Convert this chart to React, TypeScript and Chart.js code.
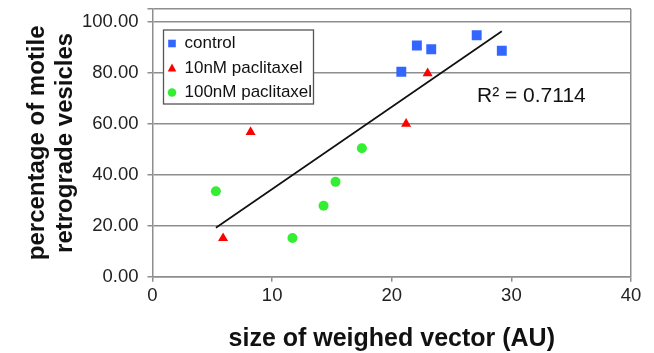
import React, { useEffect, useRef } from 'react';
import { Chart, registerables } from 'chart.js';

Chart.register(...registerables);

// ---- data ----
const seriesLabels = ['control', '10nM paclitaxel', '100nM paclitaxel'];
const controlX = [20.8, 22.1, 23.3, 27.1, 29.2];
const controlY = [80.4, 90.7, 89.2, 94.7, 88.6];
const nm10X = [23.0, 21.2, 8.2, 5.9];
const nm10Y = [79.8, 60.0, 56.7, 15.1];
const nm100X = [5.3, 11.7, 14.3, 15.3, 17.5];
const nm100Y = [33.5, 15.2, 27.8, 37.2, 50.4];
const xTicks = [0, 10, 20, 30, 40];
const yTicks = [0, 20, 40, 60, 80, 100];
const xMin = 0;
const xMax = 40;
const yMin = 0;
const yMax = 105;
const r2Label = 'R² = 0.7114';
const xTitle = 'size of weighed vector (AU)';
const yTitle = ['percentage of motile', 'retrograde vesicles'];

const FAMILY = '"Liberation Sans", Arial, sans-serif';
const GRID = '#8e8e8e';
const BLUE = '#3366ff';
const RED = '#ff0000';
const GREEN = '#33ee33';

type P = { x: number; y: number };
const pairs = (xs: number[], ys: number[]): P[] => xs.map((x, i) => ({ x, y: ys[i] }));

function trendLine(points: P[]): P[] {
  const n = points.length;
  const mx = points.reduce((s, p) => s + p.x, 0) / n;
  const my = points.reduce((s, p) => s + p.y, 0) / n;
  let sxy = 0;
  let sxx = 0;
  points.forEach((p) => {
    sxy += (p.x - mx) * (p.y - my);
    sxx += (p.x - mx) * (p.x - mx);
  });
  const slope = sxy / sxx;
  const icpt = my - slope * mx;
  const lo = Math.min(...points.map((p) => p.x));
  const hi = Math.max(...points.map((p) => p.x));
  return [
    { x: lo, y: icpt + slope * lo },
    { x: hi, y: icpt + slope * hi },
  ];
}

function drawMarker(ctx: CanvasRenderingContext2D, style: string, cx: number, cy: number, color: string) {
  ctx.fillStyle = color;
  ctx.beginPath();
  if (style === 'rect') {
    ctx.rect(cx - 3.8, cy - 3.8, 7.6, 7.6);
  } else if (style === 'triangle') {
    ctx.moveTo(cx, cy - 4.6);
    ctx.lineTo(cx + 4.3, cy + 3.6);
    ctx.lineTo(cx - 4.3, cy + 3.6);
    ctx.closePath();
  } else {
    ctx.arc(cx, cy, 4.3, 0, Math.PI * 2);
  }
  ctx.fill();
}

const overlayPlugin = {
  id: 'overlay',
  afterDatasetsDraw(chart: any) {
    const { ctx, chartArea } = chart;
    ctx.save();
    // legend box
    const left = chartArea.left + 11;
    const top = chartArea.top + 21;
    const w = 150;
    const h = 74;
    ctx.fillStyle = '#ffffff';
    ctx.fillRect(left, top, w, h);
    ctx.strokeStyle = '#555555';
    ctx.lineWidth = 1.3;
    ctx.strokeRect(left, top, w, h);
    const items = chart.data.datasets.filter((d: any) => !d.isTrend);
    items.forEach((d: any, i: number) => {
      const cy = top + 13.5 + i * 24.5;
      drawMarker(ctx, d.pointStyle, left + 8.5, cy, d.backgroundColor);
      ctx.fillStyle = '#111111';
      ctx.font = `17px ${FAMILY}`;
      ctx.textAlign = 'left';
      ctx.textBaseline = 'middle';
      ctx.fillText(d.label, left + 21, cy);
    });
    // R² label
    ctx.fillStyle = '#111111';
    ctx.font = `21px ${FAMILY}`;
    ctx.textAlign = 'left';
    ctx.textBaseline = 'middle';
    ctx.fillText(r2Label, chartArea.left + 324.5, chartArea.top + 87);
    ctx.restore();
  },
};

export default function App() {
  const ref = useRef<HTMLCanvasElement | null>(null);

  useEffect(() => {
    if (!ref.current) return;
    const control = pairs(controlX, controlY);
    const a = pairs(nm10X, nm10Y);
    const b = pairs(nm100X, nm100Y);
    const trend = trendLine([...control, ...a, ...b]);

    const chart = new Chart(ref.current, {
      type: 'scatter',
      data: {
        datasets: [
          {
            label: seriesLabels[0],
            data: control,
            pointStyle: 'rect',
            pointRadius: 7,
            backgroundColor: BLUE,
            borderWidth: 0,
          },
          {
            label: seriesLabels[1],
            data: a,
            pointStyle: 'triangle',
            pointRadius: 5.8,
            backgroundColor: RED,
            borderWidth: 0,
          },
          {
            label: seriesLabels[2],
            data: b,
            pointStyle: 'circle',
            pointRadius: 5,
            backgroundColor: GREEN,
            borderWidth: 0,
          },
          {
            label: 'trend',
            isTrend: true,
            data: trend,
            showLine: true,
            pointRadius: 0,
            borderColor: '#111111',
            borderWidth: 1.7,
            backgroundColor: '#111111',
          } as any,
        ],
      },
      options: {
        animation: false,
        responsive: false,
        layout: { padding: { top: 9, right: 23, left: 0, bottom: 0 } },
        plugins: {
          legend: { display: false },
          tooltip: { enabled: false },
        },
        scales: {
          x: {
            type: 'linear',
            min: xMin,
            max: xMax,
            afterFit: (s: any) => {
              s.height = 76.3;
              s.paddingLeft = 0;
              s.paddingRight = 0;
            },
            afterBuildTicks: (s: any) => {
              s.ticks = xTicks.map((v) => ({ value: v }));
            },
            ticks: {
              color: '#222222',
              padding: 3,
              maxRotation: 0,
              font: { size: 18.5, family: FAMILY },
              callback: (v: any) => String(v),
            },
            grid: {
              color: (c: any) => (c.tick && c.tick.value === xMax ? GRID : 'rgba(0,0,0,0)'),
              tickColor: GRID,
              tickLength: 5,
              lineWidth: 1.5,
            },
            border: { color: GRID, width: 1.5 },
            title: {
              display: true,
              text: xTitle,
              color: '#111111',
              font: { size: 25, weight: 'bold', family: FAMILY, lineHeight: 28 / 25 },
              padding: { top: 0, bottom: 0 },
            },
          },
          y: {
            type: 'linear',
            min: yMin,
            max: yMax,
            afterFit: (s: any) => {
              s.width = 152.5;
              s.paddingTop = 0;
              s.paddingBottom = 0;
            },
            afterBuildTicks: (s: any) => {
              s.ticks = [...yTicks, yMax].map((v) => ({ value: v }));
            },
            ticks: {
              color: '#222222',
              padding: 9,
              font: { size: 18.5, family: FAMILY },
              callback: (v: any) => (v === yMax ? '' : Number(v).toFixed(2)),
            },
            grid: {
              color: GRID,
              tickColor: GRID,
              tickLength: 5,
              lineWidth: 1.5,
            },
            border: { color: GRID, width: 1.5 },
            title: {
              display: true,
              text: yTitle,
              color: '#111111',
              font: { size: 24, weight: 'bold', family: FAMILY, lineHeight: 28 / 24 },
              padding: { top: 23, bottom: 0 },
            },
          },
        },
      },
      plugins: [overlayPlugin],
    } as any);

    return () => chart.destroy();
  }, []);

  return (
    <div style={{ position: 'fixed', left: 0, top: 0, width: 654, height: 353, background: '#ffffff' }}>
      <canvas ref={ref} width={654} height={353} style={{ display: 'block', width: 654, height: 353 }} />
    </div>
  );
}
